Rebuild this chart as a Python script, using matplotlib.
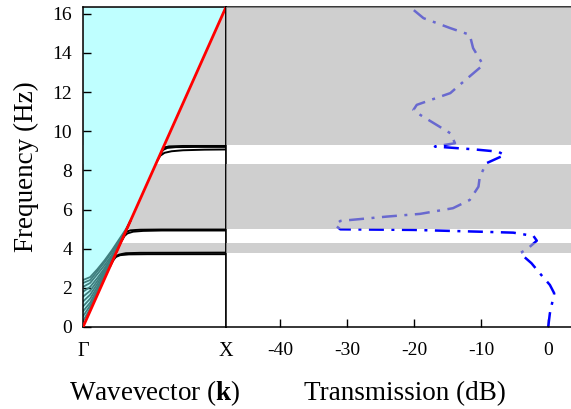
import matplotlib
matplotlib.use("Agg")
import matplotlib.pyplot as plt
import numpy as np

plt.rcParams["font.family"] = ["Liberation Serif", "DejaVu Serif"]
plt.rcParams["mathtext.fontset"] = "custom"
plt.rcParams["mathtext.rm"] = "Liberation Serif"
plt.rcParams["mathtext.bf"] = "Liberation Serif:bold"
plt.rcParams["axes.unicode_minus"] = False

# ---- data -------------------------------------------------------------
f_max = 16.35                     # top of the frequency axis (Hz)
light_k = [0.0, 1.0]
light_f = [0.0, 16.35]            # sound line from Gamma to X

# band-gap (grey) intervals in Hz
gap_lo = [3.77, 4.99, 9.30]
gap_hi = [4.31, 8.33, 16.35]

# flat dispersion branches (k in units of Gamma-X)
band_k = [
    [0.19, 0.21, 0.23, 0.26, 0.32, 0.45, 1.00],
    [0.20, 0.22, 0.25, 0.30, 0.40, 1.00],
    [0.27, 0.29, 0.31, 0.35, 0.42, 0.55, 1.00],
    [0.28, 0.30, 0.33, 0.40, 0.55, 1.00],
    [0.52, 0.54, 0.57, 0.62, 0.70, 0.85, 1.00],
    [0.54, 0.56, 0.59, 0.65, 0.80, 1.00],
    [0.55, 0.57, 0.60, 0.70, 1.00],
]
band_f = [
    [3.10, 3.40, 3.58, 3.67, 3.71, 3.72, 3.72],
    [3.27, 3.55, 3.70, 3.77, 3.79, 3.80],
    [4.40, 4.65, 4.78, 4.87, 4.91, 4.93, 4.93],
    [4.60, 4.85, 4.94, 4.97, 4.98, 4.98],
    [8.50, 8.75, 8.90, 8.98, 9.03, 9.06, 9.07],
    [8.80, 9.05, 9.15, 9.19, 9.20, 9.20],
    [9.00, 9.18, 9.23, 9.25, 9.25],
]

# leaky branches above the sound line
leaky_k = [0.0, 0.05, 0.10, 0.15, 0.20, 0.25, 0.30, 0.33]
leaky_f = [
    [2.40, 2.55, 2.95, 3.40, 3.90, 4.45, 5.00, 5.40],
    [2.25, 2.40, 2.85, 3.30, 3.80, 4.35, 4.95, 5.40],
    [2.05, 2.25, 2.70, 3.15, 3.65, 4.28, 4.93, 5.40],
    [1.80, 2.05, 2.50, 3.00, 3.55, 4.22, 4.92, 5.40],
    [1.55, 1.85, 2.35, 2.90, 3.50, 4.18, 4.91, 5.40],
    [1.30, 1.65, 2.20, 2.80, 3.45, 4.15, 4.91, 5.40],
    [1.05, 1.45, 2.05, 2.70, 3.40, 4.12, 4.90, 5.40],
    [0.80, 1.25, 1.92, 2.60, 3.36, 4.11, 4.90, 5.40],
    [0.55, 1.10, 1.82, 2.55, 3.32, 4.10, 4.90, 5.40],
    [0.30, 0.95, 1.72, 2.50, 3.29, 4.09, 4.90, 5.40],
]

# transmission spectrum (dB vs Hz)
trans_db = [0.0, 0.25, 0.9, 0.25, -1.24, -2.5, -4.2, -3.0, -1.7, -2.2, -5.2,
            -9.2, -20.1, -31.0, -31.8, -31.0, -24.1, -19.1, -14.2, -11.7,
            -10.4, -10.2, -9.2, -6.5, -7.5, -11.2, -16.9, -13.9, -14.6,
            -19.1, -20.1, -19.6, -14.6, -13.2, -9.7, -11.2, -11.7, -14.6,
            -18.6, -20.4]
trans_f = [0.0, 0.70, 1.72, 2.15, 2.74, 3.26, 3.77, 4.02, 4.41, 4.65, 4.82,
           4.86, 4.96, 4.99, 5.21, 5.42, 5.64, 5.78, 6.07, 6.49, 7.17, 7.68,
           8.37, 8.79, 8.96, 9.08, 9.22, 9.39, 9.90, 10.84, 11.09, 11.35,
           11.95, 12.37, 13.39, 14.25, 14.93, 15.27, 15.78, 16.29]

freq_ticks = [0, 2, 4, 6, 8, 10, 12, 14, 16]
db_ticks = [-40, -30, -20, -10, 0]
k_ticks = [0, 1]
k_labels = ["Γ", "X"]

# ---- figure -----------------------------------------------------------
fig = plt.figure(figsize=(5.71, 4.09), dpi=100)
ax1 = fig.add_axes([0.1454, 0.2005, 0.2504, 0.7824])
ax2 = fig.add_axes([0.3958, 0.2005, 0.6042, 0.7824])

grey = "#d0d0d0"
for lo, hi in zip(gap_lo, gap_hi):
    ax1.axhspan(lo, hi, color=grey, lw=0, zorder=0)

kk = np.array(light_k)
ff = np.array(light_f)
ax1.fill_between(kk, ff, f_max, color="#bfffff", lw=0, zorder=1)
for fl in leaky_f:
    ax1.plot(leaky_k[:len(fl)], fl, color="#3f7f7f", lw=1.3, zorder=2)
for bk, bf in zip(band_k, band_f):
    ax1.plot(bk, bf, color="black", lw=1.4, zorder=3, solid_capstyle="butt")
ax1.plot(light_k, light_f, color="red", lw=2.0, zorder=4)

ax1.set_xlim(0, 1)
ax1.set_ylim(0, f_max)
ax1.set_xticks(k_ticks)
ax1.set_xticklabels(k_labels)
ax1.set_yticks(freq_ticks)
ax1.tick_params(axis="y", direction="in", length=6, width=1, pad=8,
                labelsize=14)
ax1.tick_params(axis="x", length=0, pad=11, labelsize=14.5)
ax1.set_ylabel("Frequency (Hz)", fontsize=19.5)
ax1.yaxis.set_label_coords(-0.31, 0.5)
for s in ax1.spines.values():
    s.set_linewidth(1.1)

# transmission panel
ax2.plot(trans_db, trans_f, color="blue", lw=1.8, ls=(0, (6, 3, 1.2, 3)),
         zorder=2)
for lo, hi in zip(gap_lo, gap_hi):
    ax2.axhspan(lo, hi, color="#b0b0b0", alpha=0.6, lw=0, zorder=3)
ax2.set_xlim(-48.05, 3.4)
ax2.set_ylim(0, f_max)
ax2.set_xticks(db_ticks)
ax2.set_yticks([])
ax2.tick_params(axis="x", direction="in", length=6, width=1, pad=11,
                labelsize=14)
ax2.spines["right"].set_visible(False)
for s in ax2.spines.values():
    s.set_linewidth(1.1)

fig.text(0.2706, 0.022, "Wavevector ($\\mathbf{k}$)", ha="center",
         va="baseline", fontsize=19.5)
fig.text(0.709, 0.022, "Transmission (dB)", ha="center", va="baseline",
         fontsize=19.5)

fig.savefig("out.png", dpi=100)
